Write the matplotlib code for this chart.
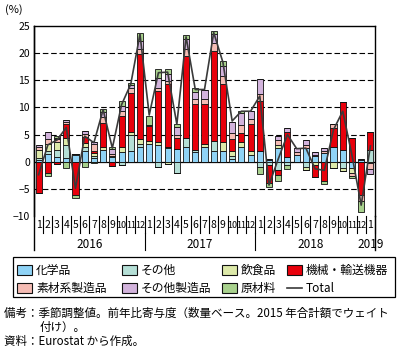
import matplotlib
matplotlib.use('Agg')
import matplotlib.pyplot as plt
from matplotlib.patches import Rectangle
from matplotlib.lines import Line2D
import numpy as np

plt.rcParams['font.family'] = ['Noto Sans CJK JP', 'DejaVu Sans']

# 月ラベル (2016年1月～2019年1月)
months = list(range(1, 13)) * 3 + [1]
years = ['2016', '2017', '2018', '2019']

# 前年比寄与度 (%ポイント)
chem  = [0.4, 1.4, 0.8, 0.7, 1.2, 1.9, 0.6, 2.2, 0.8, 1.8, 1.9, 2.8,
         3.3, 3.0, 2.5, 2.3, 2.7, 1.7, 2.7, 1.9, 2.0, 0.5, 2.8, 1.3,
         1.9, 0.4, 2.5, 0.9, 1.3, 2.5, 1.0, 1.6, 2.7, 2.2, -1.2, 0.3,
         0.0]
other = [0.3, 0.6, 1.4, 2.4, 0.3, 0.9, 0.4, 0.0, 0.3, -0.6, 3.1, 0.5,
         0.0, -0.9, 0.3, -2.1, 1.7, 0.5, 0.0, 1.9, 0.0, 0.6, 0.0, 0.0,
         -0.9, -0.6, -1.5, -0.6, 0.0, -0.9, 0.0, 0.0, 0.0, -1.2, 0.0, 0.0,
         2.2]
food  = [1.4, 1.2, 1.4, 1.3, 0.0, 0.7, 0.6, 0.6, 0.0, 0.9, 0.5, 0.9,
         0.6, 0.6, -0.4, 0.0, 0.0, 0.0, 0.6, 0.0, 1.6, 0.8, 0.8, 0.6,
         0.0, 0.0, 0.6, 0.0, 0.0, -0.7, -0.6, 0.0, -1.2, -0.6, -0.8, 0.0,
         -0.3]
mach  = [-5.7, -2.1, -0.5, 2.6, -6.1, 1.1, 0.4, 4.3, -0.7, 5.7, 7.2, 15.6,
         2.6, 9.4, 11.5, 2.1, 15.1, 8.4, 7.3, 16.6, 10.7, 2.2, 1.7, 5.0,
         9.3, -3.4, -0.9, 4.5, 0.0, 0.0, -2.2, -3.6, 3.5, 8.8, 4.4, -6.1,
         3.2]
mater = [0.6, 1.0, 0.5, 0.3, 0.0, 0.5, 1.2, 1.2, 0.4, 0.9, 0.9, 0.9,
         0.2, 0.6, 0.5, 0.6, 1.2, 0.9, 1.0, 1.4, 1.5, 1.2, 1.4, 1.0,
         1.2, 0.0, 0.9, 0.0, 0.5, 0.6, 0.3, 0.3, 0.7, 0.0, -0.6, -1.2,
         -1.1]
misc  = [0.4, 1.2, 0.3, 0.3, 0.0, 0.6, 0.4, 0.9, 0.9, 0.9, 0.5, 1.6,
         0.0, 1.9, 1.3, 1.4, 1.9, 1.3, 1.6, 1.7, 1.9, 2.0, 2.3, 1.4,
         2.9, 0.1, 0.8, 0.9, 0.7, 0.9, 0.5, 0.6, 0.0, 0.0, 0.0, 0.2,
         -0.9]
raw   = [0.0, -0.5, 0.4, -1.2, -0.6, -1.0, -0.2, 0.5, 0.3, 0.9, 0.4, 1.5,
         1.8, 1.5, 0.9, 0.6, 0.7, 0.7, 0.0, 0.6, 0.9, 0.0, 0.3, 0.0,
         -1.3, -0.6, -1.2, -0.7, 0.0, 0.0, 0.0, -0.5, 0.0, 0.0, -0.4, -1.9,
         0.0]
total = [-2.4, 3.1, 4.0, 6.3, -4.9, 4.7, 3.5, 9.6, 2.5, 10.5, 14.3, 23.5,
         8.6, 16.4, 16.5, 6.9, 23.0, 13.3, 13.3, 23.8, 18.3, 7.5, 9.3, 9.3,
         12.1, -4.3, 0.5, 5.0, 2.4, 2.5, -1.3, -1.6, 5.9, 9.3, 1.2, -8.0,
         2.9]

labels = ['化学品', 'その他', '飲食品', '機械・輸送機器',
          '素材系製造品', 'その他製造品', '原材料']
series = [chem, other, food, mach, mater, misc, raw]
colors = ['#8fd3f6', '#b5dfd6', '#dde9a9', '#e8000b',
          '#f5bcb4', '#d2b3dc', '#a8d18d']

W, H = 408, 348
fig = plt.figure(figsize=(W / 100, H / 100), dpi=100)


def fx(px):
    return px / W


def fy(py):
    return 1 - py / H


ax = fig.add_axes([fx(34), fy(216), fx(341), 190 / H])

x = np.arange(len(months))
pos = np.zeros(len(x))
neg = np.zeros(len(x))
# プラスは上へ、マイナスは下へ積み上げ
for vals, c in zip(series, colors):
    v = np.array(vals)
    up = np.where(v > 0, v, 0)
    dn = np.where(v < 0, v, 0)
    ax.bar(x, up, 0.66, bottom=pos, color=c, edgecolor='#111111',
           linewidth=0.6, zorder=3)
    ax.bar(x, dn, 0.66, bottom=neg, color=c, edgecolor='#111111',
           linewidth=0.6, zorder=3)
    pos += up
    neg += dn

ax.plot(x, total, color='#3a3a3a', lw=1.2, zorder=5)

for v in [-5, 5, 10, 15, 20]:
    ax.axhline(v, color='black', lw=0.8, ls=(0, (5, 2.5)), zorder=1)
ax.axhline(0, color='black', lw=0.9, zorder=2)

ax.set_xlim(-0.5, len(x) - 0.5)
ax.set_ylim(-10, 25)
ax.set_yticks(range(-10, 26, 5))
ax.set_xticks([])
ax.tick_params(axis='y', length=0, pad=3, labelsize=7.5)
for s in ['top', 'right', 'left']:
    ax.spines[s].set_color('black')
    ax.spines[s].set_linewidth(1.0)
ax.spines['bottom'].set_visible(False)

# 月・年の軸ラベル
tr = ax.get_xaxis_transform()
row1 = -17 / 190
row2 = -34 / 190
for i, m in enumerate(months):
    ax.text(i, -9 / 190, str(m), transform=tr, ha='center', va='center',
            fontsize=6.5 if m >= 10 else 7.5,
            family=['Liberation Sans Narrow', 'Noto Sans CJK JP'],
            clip_on=False)
    ax.plot([i + 0.5, i + 0.5], [0, row1], transform=tr, color='black',
            lw=0.8, clip_on=False)
ax.plot([-0.5, -0.5], [1, row2], transform=tr, color='black', lw=1.0,
        clip_on=False)
ax.plot([len(x) - 0.5, len(x) - 0.5], [0, row2], transform=tr,
        color='black', lw=1.0, clip_on=False)
for b in [11.5, 23.5]:
    ax.plot([b, b], [row1, row2], transform=tr, color='black', lw=0.8,
            clip_on=False)
year_pos = [5.5, 17.5, 29.5, 36]
for yp, yr in zip(year_pos, years):
    ax.text(yp, -28 / 190, yr, transform=tr, ha='center', va='center',
            fontsize=8.5, clip_on=False)

fig.text(fx(5), fy(10), '(%)', fontsize=8, va='center', ha='left')

# 凡例 (4列×2行)
fig.patches.append(Rectangle((fx(13), fy(297)), fx(382), 40 / H,
                             transform=fig.transFigure, fill=False,
                             edgecolor='black', lw=0.9))
col_x = [17, 122, 222, 287]
row_y = [270, 288]
for k, (lab, c) in enumerate(zip(labels, colors)):
    cx, cy = col_x[k % 4], row_y[k // 4]
    fig.patches.append(Rectangle((fx(cx), fy(cy + 5)), fx(15), 10 / H,
                                 transform=fig.transFigure,
                                 facecolor=c, edgecolor='#111111', lw=0.8))
    fig.text(fx(cx + 19), fy(cy), lab, fontsize=8.5,
             va='center', ha='left')
cx, cy = col_x[3], row_y[1]
fig.add_artist(Line2D([fx(cx), fx(cx + 15)], [fy(cy), fy(cy)],
                      color='#3a3a3a', lw=1.2))
fig.text(fx(cx + 19), fy(cy), 'Total', fontsize=8.5, va='center',
         ha='left')

# 注記
fig.text(fx(4), fy(313), '備考：季節調整値。前年比寄与度（数量ベース。2015 年合計額でウェイト',
         fontsize=8.3, va='center', ha='left')
fig.text(fx(40), fy(327), '付け）。', fontsize=8.3, va='center', ha='left')
fig.text(fx(4), fy(341), '資料：Eurostat から作成。', fontsize=8.3,
         va='center', ha='left')

fig.savefig('out.png', dpi=100)
